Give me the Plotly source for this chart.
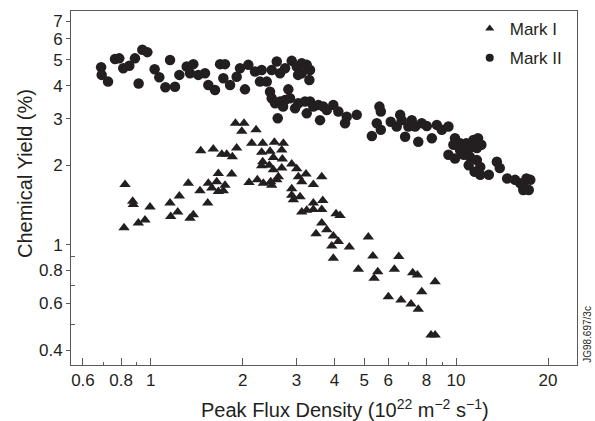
import plotly.graph_objects as go

# Mark I (triangles): peak flux density (1e22 m^-2 s^-1), chemical yield (%)
mark1_flux = [0.824, 0.873, 0.877, 0.995, 0.818, 0.911, 0.958, 1.157, 1.241, 1.163,
              1.226, 1.345, 1.379, 1.328, 1.450, 1.537, 1.458, 1.603, 1.709, 1.774,
              1.851, 1.665, 1.842, 1.544, 1.645, 1.751, 1.585, 1.665, 1.729, 1.912,
              1.895, 1.987, 2.021, 2.099, 2.213, 2.142, 2.327, 2.541, 2.719, 2.686,
              2.309, 2.459, 2.521, 2.327, 2.309, 2.446, 2.698, 2.896, 2.686, 2.521,
              3.007, 2.618, 2.587, 3.045, 3.226, 3.124, 3.632, 3.409, 2.234, 2.338,
              2.472, 2.490, 2.896, 2.896, 3.083, 2.932, 3.409, 3.660, 3.243, 3.124,
              3.409, 3.632, 4.045, 4.169, 3.632, 3.772, 3.479, 3.963, 4.116, 3.916,
              4.472, 3.963, 5.16, 5.34, 4.786, 5.54, 5.39, 6.28, 6.49, 7.21,
              7.47, 8.54, 7.72, 6.00, 6.60, 7.12, 7.52, 8.28, 8.54]
mark1_yield = [1.69, 1.46, 1.42, 1.39, 1.16, 1.21, 1.24, 1.44, 1.53, 1.28,
               1.33, 1.26, 1.30, 1.71, 1.60, 1.44, 2.27, 2.30, 2.20, 2.20,
               2.15, 1.86, 1.85, 1.71, 1.73, 1.68, 1.64, 1.59, 1.60, 2.32,
               2.88, 2.69, 2.88, 1.72, 2.72, 2.42, 2.42, 2.44, 2.42, 2.28,
               2.24, 2.26, 2.14, 2.06, 1.99, 2.00, 2.11, 2.02, 1.95, 1.92,
               1.94, 1.81, 1.76, 1.81, 1.85, 1.73, 1.81, 1.69, 1.76, 1.71,
               1.73, 1.68, 1.63, 1.54, 1.52, 1.48, 1.44, 1.47, 1.35, 1.33,
               1.36, 1.36, 1.31, 1.29, 1.21, 1.14, 1.10, 1.08, 1.03, 0.99,
               0.98, 0.889, 1.07, 0.907, 0.808, 0.791, 0.747, 0.808, 0.902, 0.784,
               0.769, 0.725, 0.665, 0.636, 0.618, 0.597, 0.570, 0.456, 0.456]

# Mark II (circles)
mark2_flux = [0.688, 0.691, 0.725, 0.764, 0.789, 0.813, 0.851, 0.888, 0.939, 0.975,
              0.913, 1.03, 1.067, 1.157, 1.117, 1.201, 1.241, 1.312, 1.379, 1.345,
              1.432, 1.506, 1.544, 1.624, 1.687, 1.751, 1.729, 1.819, 1.912, 1.961,
              2.088, 2.036, 2.196, 2.309, 2.280, 2.399, 2.490, 2.587, 2.652, 2.754,
              2.896, 3.007, 3.124, 3.243, 3.325, 3.124, 3.308, 2.823, 2.459, 2.490,
              2.554, 2.652, 2.754, 2.859, 2.970, 3.045, 3.202, 3.325, 3.243, 3.409,
              3.540, 3.676, 3.585, 3.772, 3.963, 4.116, 4.385, 4.329, 4.729, 2.606,
              3.038, 2.713, 5.61, 5.67, 5.50, 5.67, 5.30, 6.11, 6.56, 6.64,
              6.39, 6.81, 7.16, 6.98, 7.34, 7.72, 7.52, 8.02, 8.65, 8.33,
              8.98, 9.44, 9.92, 10.3, 10.8, 11.4, 11.8, 9.80, 10.3, 11.1,
              11.7, 12.1, 9.44, 9.92, 10.6, 11.1, 11.7, 11.0, 12.0, 11.5,
              12.0, 12.8, 13.6, 13.9, 14.7, 15.6, 16.2, 16.6, 17.0, 17.5,
              17.3, 16.6]
mark2_yield = [4.69, 4.39, 4.14, 5.04, 5.07, 4.65, 4.75, 5.07, 5.46, 5.35,
               4.07, 4.61, 4.30, 5.00, 3.94, 3.96, 4.39, 4.72, 4.82, 4.45,
               4.39, 4.45, 4.02, 3.85, 4.82, 4.82, 4.26, 4.02, 4.32, 4.65,
               4.79, 3.87, 4.52, 4.58, 4.14, 4.14, 4.58, 4.93, 4.45, 4.65,
               4.96, 4.72, 4.86, 4.79, 4.58, 4.45, 4.20, 3.87, 3.79, 3.58,
               3.43, 3.48, 3.53, 3.58, 3.28, 3.43, 3.48, 3.48, 3.14, 3.33,
               3.38, 3.33, 2.96, 3.23, 3.38, 3.19, 3.05, 2.88, 3.10, 3.01,
               4.39, 3.33, 3.33, 3.19, 2.88, 2.72, 2.58, 2.92, 3.10, 2.96,
               2.80, 2.56, 2.96, 2.80, 2.80, 2.88, 2.45, 2.81, 2.84, 2.53,
               2.72, 2.80, 2.53, 2.42, 2.42, 2.49, 2.53, 2.39, 2.28, 2.32,
               2.32, 2.39, 2.19, 2.12, 2.19, 2.15, 2.09, 2.00, 1.97, 1.89,
               1.84, 1.84, 2.06, 1.95, 1.78, 1.76, 1.71, 1.66, 1.78, 1.76,
               1.61, 1.61]

x_tickvals = [0.6, 0.8, 1, 2, 3, 4, 5, 6, 8, 10, 20]
x_ticktext = ["0.6", "0.8", "1", "2", "3", "4", "5", "6", "8", "10", "20"]
x_minor = [0.7, 0.9, 7, 9]
y_tickvals = [0.4, 0.6, 0.8, 1, 2, 3, 4, 5, 6, 7]
y_ticktext = ["0.4", "0.6", "0.8", "1", "2", "3", "4", "5", "6", "7"]
y_minor = [0.5, 0.7, 0.9]

INK = "#231f20"
AXIS = "#58595b"
FONT = "Liberation Sans, Arial, Helvetica, sans-serif"

fig = go.Figure()
fig.add_trace(go.Scatter(x=mark1_flux, y=mark1_yield, mode="markers", showlegend=False,
                         marker=dict(symbol="triangle-up", size=10, color=INK)))
fig.add_trace(go.Scatter(x=mark2_flux, y=mark2_yield, mode="markers", showlegend=False,
                         marker=dict(symbol="circle", size=10.5, color=INK)))
# legend entries
fig.add_trace(go.Scatter(x=[None], y=[None], mode="markers", name="Mark I",
                         legendgroup="a",
                         marker=dict(symbol="triangle-up", size=8, color=INK)))
fig.add_trace(go.Scatter(x=[None], y=[None], mode="markers", name="Mark II",
                         legendgroup="b",
                         marker=dict(symbol="circle", size=8, color=INK)))

fig.update_layout(
    width=595, height=421,
    margin=dict(l=71, r=18, t=11, b=56),
    paper_bgcolor="white", plot_bgcolor="white",
    font=dict(family=FONT, size=17, color=INK),
    showlegend=True,
    legend=dict(x=0.788, y=1.0, xanchor="left", yanchor="top",
                bgcolor="rgba(0,0,0,0)", font=dict(size=17, color=INK),
                itemwidth=30, traceorder="grouped", tracegroupgap=4),
)
fig.update_xaxes(
    type="log", range=[-0.261, 1.396],
    tickmode="array", tickvals=x_tickvals, ticktext=x_ticktext,
    ticks="inside", ticklen=7, tickwidth=1, tickcolor=AXIS,
    minor=dict(tickmode="array", tickvals=x_minor, ticks="inside", ticklen=3.5,
               tickwidth=1, tickcolor=AXIS, showgrid=False),
    showline=True, linecolor=AXIS, linewidth=1, mirror=True,
    showgrid=False, zeroline=False,
    tickfont=dict(size=17, color=INK),
)
fig.update_yaxes(
    type="log", range=[-0.4546, 0.884],
    tickmode="array", tickvals=y_tickvals, ticktext=y_ticktext,
    ticks="outside", ticklen=4, tickwidth=1, tickcolor=AXIS,
    minor=dict(tickmode="array", tickvals=y_minor, ticks="inside", ticklen=3.5,
               tickwidth=1, tickcolor=AXIS, showgrid=False),
    showline=True, linecolor=AXIS, linewidth=1, mirror=True,
    showgrid=False, zeroline=False,
    tickfont=dict(size=17, color=INK),
)

fig.add_annotation(text="Chemical Yield (%)", xref="paper", yref="paper",
                   x=-0.0909, y=0.5395, textangle=-90, showarrow=False,
                   font=dict(size=20, color=INK), xanchor="center", yanchor="middle")
fig.add_annotation(text="Peak Flux Density (10<sup>22</sup> m<sup>−2</sup> s<sup>−1</sup>)",
                   xref="paper", yref="paper", x=0.5415, y=-0.124, showarrow=False,
                   font=dict(size=20, color=INK), xanchor="center", yanchor="middle")
fig.add_annotation(text="JG98.697/3c", xref="paper", yref="paper",
                   x=1.0217, y=0.088, textangle=-90, showarrow=False,
                   font=dict(size=10, color=INK), xanchor="center", yanchor="middle")

fig.write_html("out.html")
